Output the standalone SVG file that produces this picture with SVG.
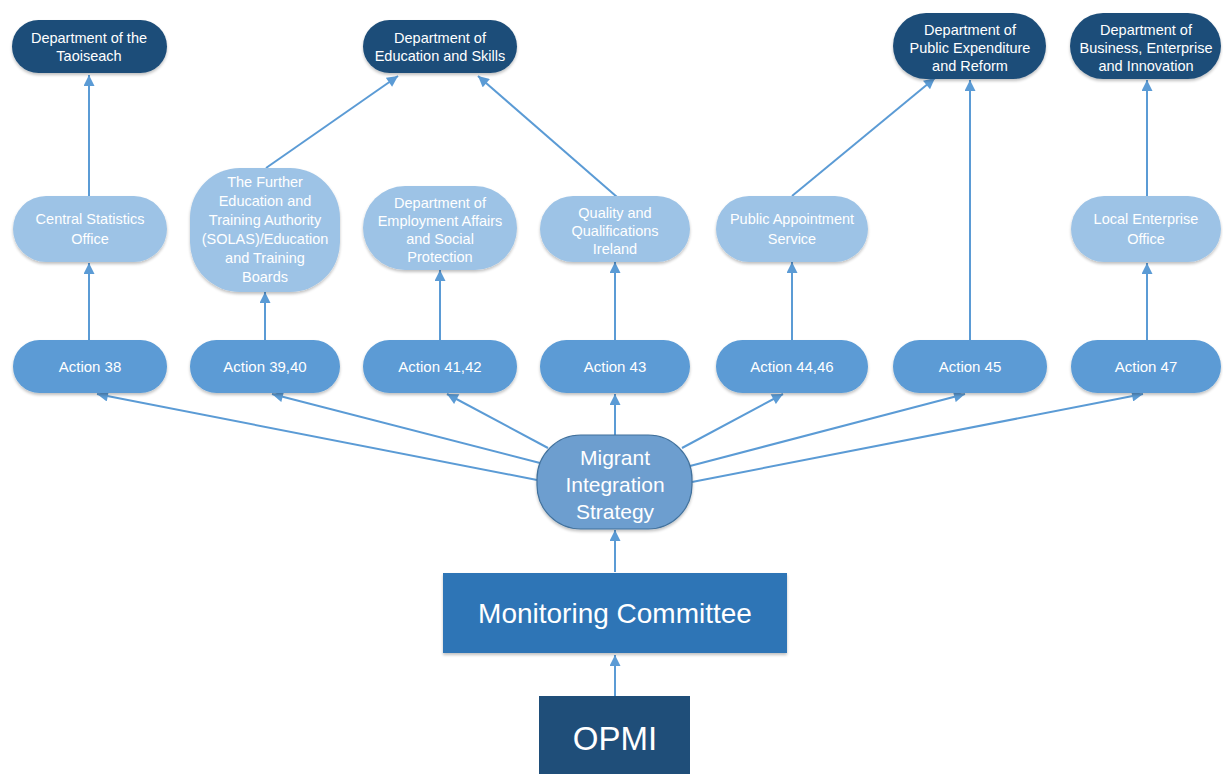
<svg xmlns="http://www.w3.org/2000/svg" width="1223" height="774" viewBox="0 0 1223 774">
<defs>
<marker id="arr" viewBox="0 0 10 10" refX="10" refY="5" markerWidth="12" markerHeight="11" markerUnits="userSpaceOnUse" orient="auto">
<path d="M0,0 L10,5 L0,10 z" fill="#5B9BD5"/>
</marker>
<filter id="sh" x="-10%" y="-10%" width="120%" height="130%">
<feGaussianBlur in="SourceAlpha" stdDeviation="1.5"/>
<feOffset dx="0" dy="1.5" result="b"/>
<feComponentTransfer><feFuncA type="linear" slope="0.25"/></feComponentTransfer>
<feMerge><feMergeNode/><feMergeNode in="SourceGraphic"/></feMerge>
</filter>
</defs>
<style>
.dk{fill:#1F4E79;filter:url(#sh)}
.lt{fill:#9DC3E6;filter:url(#sh)}
.ac{fill:#5B9BD5;filter:url(#sh)}
.t{font-family:"Liberation Sans",Arial,sans-serif;font-size:14.5px;fill:#ffffff;text-anchor:middle}
.ta{font-family:"Liberation Sans",Arial,sans-serif;font-size:15px;fill:#ffffff;text-anchor:middle}
.c{stroke:#5B9BD5;stroke-width:2;fill:none;marker-end:url(#arr)}
</style>
<rect width="1223" height="774" fill="#ffffff"/>

<g id="connectors">
<line class="c" x1="89" y1="196" x2="89" y2="75"/>
<line class="c" x1="89" y1="340" x2="89" y2="263"/>
<line class="c" x1="266" y1="168" x2="398" y2="76"/>
<line class="c" x1="617" y1="197" x2="478" y2="76"/>
<line class="c" x1="265" y1="340" x2="265" y2="292"/>
<line class="c" x1="440" y1="340" x2="440" y2="270"/>
<line class="c" x1="615" y1="340" x2="615" y2="262"/>
<line class="c" x1="792" y1="340" x2="792" y2="262"/>
<line class="c" x1="792" y1="196" x2="935" y2="78"/>
<line class="c" x1="970" y1="340" x2="970" y2="80"/>
<line class="c" x1="1147" y1="340" x2="1147" y2="263"/>
<line class="c" x1="1147" y1="196" x2="1147" y2="80"/>
<line class="c" x1="537" y1="480" x2="97" y2="394"/>
<line class="c" x1="540" y1="463" x2="272" y2="394"/>
<line class="c" x1="548" y1="448" x2="447" y2="394"/>
<line class="c" x1="615" y1="435" x2="615" y2="394"/>
<line class="c" x1="682" y1="448" x2="783" y2="394"/>
<line class="c" x1="690" y1="466" x2="965" y2="394"/>
<line class="c" x1="692" y1="482" x2="1143" y2="394"/>
<line class="c" x1="615" y1="572" x2="615" y2="530"/>
<line class="c" x1="615" y1="696" x2="615" y2="655"/>
</g>

<g id="n-taoiseach">
<rect class="dk" x="12" y="20" width="155" height="53" rx="26.5"/>
<text class="t" x="89" y="43">Department of the</text>
<text class="t" x="89" y="61">Taoiseach</text>
</g>
<g id="n-education">
<rect class="dk" x="363" y="20" width="154" height="53" rx="26.5"/>
<text class="t" x="440" y="43">Department of</text>
<text class="t" x="440" y="61">Education and Skills</text>
</g>
<g id="n-per">
<rect class="dk" x="893" y="13" width="153" height="66" rx="33"/>
<text class="t" x="970" y="35">Department of</text>
<text class="t" x="970" y="53">Public Expenditure</text>
<text class="t" x="970" y="71">and Reform</text>
</g>
<g id="n-business">
<rect class="dk" x="1070" y="13" width="151" height="66" rx="33"/>
<text class="t" x="1146" y="35">Department of</text>
<text class="t" x="1146" y="53">Business, Enterprise</text>
<text class="t" x="1146" y="71">and Innovation</text>
</g>

<g id="n-cso">
<rect class="lt" x="13" y="196" width="154" height="66" rx="33"/>
<text class="t" x="90" y="224">Central Statistics</text>
<text class="t" x="90" y="244">Office</text>
</g>
<g id="n-solas">
<rect class="lt" x="190" y="168" width="150" height="124" rx="50"/>
<text class="t" x="265" y="187">The Further</text>
<text class="t" x="265" y="206">Education and</text>
<text class="t" x="265" y="225">Training Authority</text>
<text class="t" x="265" y="244">(SOLAS)/Education</text>
<text class="t" x="265" y="263">and Training</text>
<text class="t" x="265" y="282">Boards</text>
</g>
<g id="n-deasp">
<rect class="lt" x="363" y="186" width="154" height="84" rx="42"/>
<text class="t" x="440" y="208">Department of</text>
<text class="t" x="440" y="226">Employment Affairs</text>
<text class="t" x="440" y="244">and Social</text>
<text class="t" x="440" y="262">Protection</text>
</g>
<g id="n-qqi">
<rect class="lt" x="540" y="196" width="150" height="66" rx="33"/>
<text class="t" x="615" y="218">Quality and</text>
<text class="t" x="615" y="236">Qualifications</text>
<text class="t" x="615" y="254">Ireland</text>
</g>
<g id="n-pas">
<rect class="lt" x="716" y="196" width="152" height="66" rx="33"/>
<text class="t" x="792" y="224">Public Appointment</text>
<text class="t" x="792" y="244">Service</text>
</g>
<g id="n-leo">
<rect class="lt" x="1071" y="196" width="150" height="66" rx="33"/>
<text class="t" x="1146" y="224">Local Enterprise</text>
<text class="t" x="1146" y="244">Office</text>
</g>

<g id="n-a38"><rect class="ac" x="13" y="340" width="154" height="53" rx="26.5"/><text class="ta" x="90" y="372">Action 38</text></g>
<g id="n-a39"><rect class="ac" x="190" y="340" width="150" height="53" rx="26.5"/><text class="ta" x="265" y="372">Action 39,40</text></g>
<g id="n-a41"><rect class="ac" x="363" y="340" width="154" height="53" rx="26.5"/><text class="ta" x="440" y="372">Action 41,42</text></g>
<g id="n-a43"><rect class="ac" x="540" y="340" width="150" height="53" rx="26.5"/><text class="ta" x="615" y="372">Action 43</text></g>
<g id="n-a44"><rect class="ac" x="716" y="340" width="152" height="53" rx="26.5"/><text class="ta" x="792" y="372">Action 44,46</text></g>
<g id="n-a45"><rect class="ac" x="893" y="340" width="154" height="53" rx="26.5"/><text class="ta" x="970" y="372">Action 45</text></g>
<g id="n-a47"><rect class="ac" x="1071" y="340" width="150" height="53" rx="26.5"/><text class="ta" x="1146" y="372">Action 47</text></g>

<g id="n-mis">
<rect x="537" y="435" width="155" height="94" rx="44" fill="#6D9ECF" stroke="#41719C" stroke-width="1.2" filter="url(#sh)"/>
<text x="615" y="465" font-family="Liberation Sans,Arial,sans-serif" font-size="21" fill="#ffffff" text-anchor="middle">Migrant</text>
<text x="615" y="492" font-family="Liberation Sans,Arial,sans-serif" font-size="21" fill="#ffffff" text-anchor="middle">Integration</text>
<text x="615" y="519" font-family="Liberation Sans,Arial,sans-serif" font-size="21" fill="#ffffff" text-anchor="middle">Strategy</text>
</g>
<g id="n-monitoring">
<rect x="443" y="573" width="344" height="80" fill="#2E75B6" filter="url(#sh)"/>
<text x="615" y="623" font-family="Liberation Sans,Arial,sans-serif" font-size="28" fill="#ffffff" text-anchor="middle">Monitoring Committee</text>
</g>
<g id="n-opmi">
<rect x="539" y="696" width="151" height="80" fill="#1F4E79"/>
<text x="615" y="750" font-family="Liberation Sans,Arial,sans-serif" font-size="33" fill="#ffffff" text-anchor="middle">OPMI</text>
</g>
</svg>
